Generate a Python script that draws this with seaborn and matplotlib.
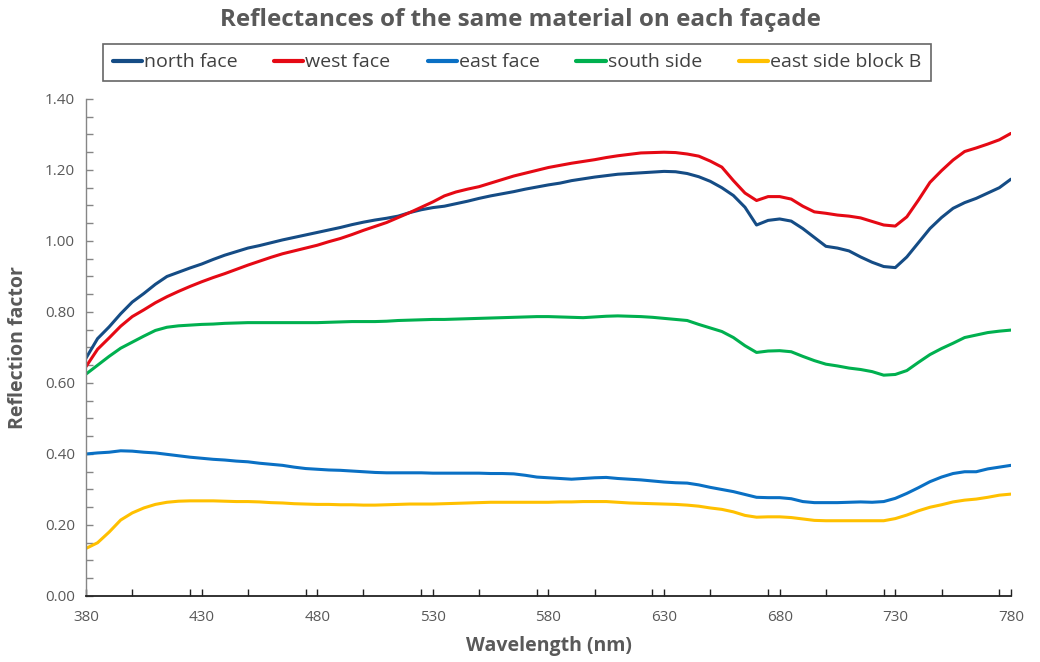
import numpy as np
import pandas as pd
import matplotlib
matplotlib.use("Agg")
import matplotlib.pyplot as plt
from matplotlib.ticker import MultipleLocator
import seaborn as sns

wavelength = list(range(380, 781, 5))

north_face = [0.670, 0.725, 0.758, 0.795, 0.828, 0.852, 0.878, 0.900, 0.912, 0.924,
              0.935, 0.948, 0.960, 0.970, 0.980, 0.987, 0.995, 1.003, 1.010, 1.017,
              1.024, 1.031, 1.038, 1.046, 1.053, 1.059, 1.064, 1.070, 1.080, 1.088,
              1.094, 1.098, 1.105, 1.112, 1.120, 1.127, 1.133, 1.139, 1.146, 1.152,
              1.158, 1.163, 1.170, 1.175, 1.180, 1.184, 1.188, 1.190, 1.192, 1.194,
              1.196, 1.195, 1.190, 1.181, 1.168, 1.150, 1.128, 1.095, 1.045, 1.058,
              1.062, 1.056, 1.035, 1.010, 0.985, 0.980, 0.972, 0.955, 0.940, 0.928,
              0.925, 0.955, 0.995, 1.035, 1.066, 1.092, 1.108, 1.120, 1.135, 1.150,
              1.174]

west_face = [0.646, 0.695, 0.727, 0.760, 0.787, 0.806, 0.826, 0.843, 0.858, 0.872,
             0.885, 0.897, 0.908, 0.920, 0.932, 0.943, 0.954, 0.964, 0.972, 0.980,
             0.988, 0.998, 1.007, 1.018, 1.030, 1.041, 1.052, 1.066, 1.080, 1.095,
             1.110, 1.127, 1.138, 1.146, 1.153, 1.163, 1.173, 1.183, 1.191, 1.199,
             1.207, 1.213, 1.219, 1.224, 1.229, 1.235, 1.240, 1.244, 1.248, 1.249,
             1.250, 1.249, 1.245, 1.239, 1.225, 1.208, 1.170, 1.135, 1.114, 1.125,
             1.125, 1.118, 1.098, 1.082, 1.078, 1.073, 1.070, 1.065, 1.055, 1.045,
             1.042, 1.068, 1.115, 1.165, 1.198, 1.228, 1.252, 1.262, 1.273, 1.285,
             1.303]

east_face = [0.400, 0.403, 0.405, 0.409, 0.408, 0.405, 0.403, 0.399, 0.395, 0.391,
             0.388, 0.385, 0.383, 0.380, 0.378, 0.374, 0.371, 0.368, 0.363, 0.359,
             0.357, 0.355, 0.354, 0.352, 0.350, 0.348, 0.347, 0.347, 0.347, 0.347,
             0.346, 0.346, 0.346, 0.346, 0.346, 0.345, 0.345, 0.344, 0.340, 0.335,
             0.333, 0.331, 0.329, 0.331, 0.333, 0.334, 0.331, 0.329, 0.327, 0.324,
             0.321, 0.319, 0.318, 0.313, 0.306, 0.300, 0.294, 0.286, 0.278, 0.277,
             0.277, 0.274, 0.266, 0.263, 0.263, 0.263, 0.264, 0.265, 0.264, 0.266,
             0.275, 0.289, 0.305, 0.322, 0.335, 0.345, 0.350, 0.350, 0.358, 0.363,
             0.368]

south_side = [0.625, 0.650, 0.675, 0.698, 0.715, 0.732, 0.748, 0.757, 0.761, 0.763,
              0.765, 0.766, 0.768, 0.769, 0.770, 0.770, 0.770, 0.770, 0.770, 0.770,
              0.770, 0.771, 0.772, 0.773, 0.773, 0.773, 0.774, 0.776, 0.777, 0.778,
              0.779, 0.779, 0.780, 0.781, 0.782, 0.783, 0.784, 0.785, 0.786, 0.787,
              0.787, 0.786, 0.785, 0.784, 0.786, 0.788, 0.789, 0.788, 0.787, 0.785,
              0.782, 0.779, 0.776, 0.765, 0.755, 0.745, 0.728, 0.705, 0.686, 0.690,
              0.691, 0.688, 0.675, 0.663, 0.653, 0.648, 0.642, 0.638, 0.632, 0.622,
              0.624, 0.635, 0.658, 0.680, 0.697, 0.712, 0.728, 0.735, 0.742, 0.746,
              0.749]

east_side_block_b = [0.134, 0.150, 0.180, 0.214, 0.234, 0.248, 0.258, 0.264, 0.267, 0.268,
                     0.268, 0.268, 0.267, 0.266, 0.266, 0.265, 0.263, 0.262, 0.260, 0.259,
                     0.258, 0.258, 0.257, 0.257, 0.256, 0.256, 0.257, 0.258, 0.259, 0.259,
                     0.259, 0.260, 0.261, 0.262, 0.263, 0.264, 0.264, 0.264, 0.264, 0.264,
                     0.264, 0.265, 0.265, 0.266, 0.266, 0.266, 0.264, 0.262, 0.261, 0.260,
                     0.259, 0.258, 0.256, 0.253, 0.248, 0.244, 0.237, 0.227, 0.222, 0.223,
                     0.223, 0.221, 0.217, 0.213, 0.212, 0.212, 0.212, 0.212, 0.212, 0.212,
                     0.218, 0.228, 0.240, 0.250, 0.257, 0.265, 0.270, 0.273, 0.278, 0.284,
                     0.287]

series_names = ["north face", "west face", "east face", "south side", "east side block B"]
series_values = [north_face, west_face, east_face, south_side, east_side_block_b]
colors = ["#154C85", "#E50914", "#0A70C4", "#00B04F", "#FFC000"]

x_ticks = list(range(380, 781, 50))
y_ticks = [0.0, 0.2, 0.4, 0.6, 0.8, 1.0, 1.2, 1.4]

df = pd.DataFrame({"Wavelength": wavelength})
for name, vals in zip(series_names, series_values):
    df[name] = vals
long_df = df.melt(id_vars="Wavelength", var_name="series", value_name="Reflection")

sns.set_theme(style="white")
plt.rcParams['font.family'] = ['Open Sans', 'DejaVu Sans']

fig = plt.figure(figsize=(10.4, 6.62), dpi=100)
ax = fig.add_axes([0.0827, 0.0997, 0.8893, 0.7508])

sns.lineplot(data=long_df, x="Wavelength", y="Reflection", hue="series",
             hue_order=series_names, palette=dict(zip(series_names, colors)),
             linewidth=2.2, ax=ax, legend=False)

ax.set_xlim(380, 780)
ax.set_ylim(0, 1.4)
ax.set_xticks(x_ticks)
ax.xaxis.set_minor_locator(MultipleLocator(25))
ax.set_yticks(y_ticks)
ax.yaxis.set_minor_locator(MultipleLocator(0.05))
ax.set_yticklabels([f"{v:.2f}" for v in y_ticks])
ax.tick_params(axis="both", which="both", direction="in", bottom=True, left=True,
               labelsize=11, labelcolor="#595959", length=5, width=1)
ax.tick_params(axis="x", which="both", colors="#222222", labelcolor="#595959", pad=10)
ax.tick_params(axis="y", which="both", colors="#868686", labelcolor="#595959", pad=8)
for s in ["top", "right"]:
    ax.spines[s].set_visible(False)
ax.spines["left"].set_color("#868686")
ax.spines["left"].set_linewidth(1)
ax.spines["bottom"].set_color("#222222")
ax.spines["bottom"].set_linewidth(1.3)

ax.set_xlabel("Wavelength (nm)", fontsize=14, fontweight="bold", color="#595959", labelpad=8)
ax.set_ylabel("Reflection factor", fontsize=14, fontweight="bold", color="#595959", labelpad=12)

fig.suptitle("Reflectances of the same material on each façade", x=0.5, y=0.988,
             fontsize=17.5, fontweight="bold", color="#595959")

handles = [plt.Line2D([0], [0], color=c, lw=3) for c in colors]
leg = fig.legend(handles, series_names, loc="center", bbox_to_anchor=(0.497, 0.9056),
                 ncol=5, frameon=True, fontsize=14, handlelength=1.5, handletextpad=0.1,
                 columnspacing=1.9, borderpad=0.5, borderaxespad=0, fancybox=False)
leg.get_frame().set_edgecolor("#404040")
leg.get_frame().set_linewidth(1.2)
for t in leg.get_texts():
    t.set_color("#404040")

fig.savefig("out.png", dpi=100, facecolor="white")
